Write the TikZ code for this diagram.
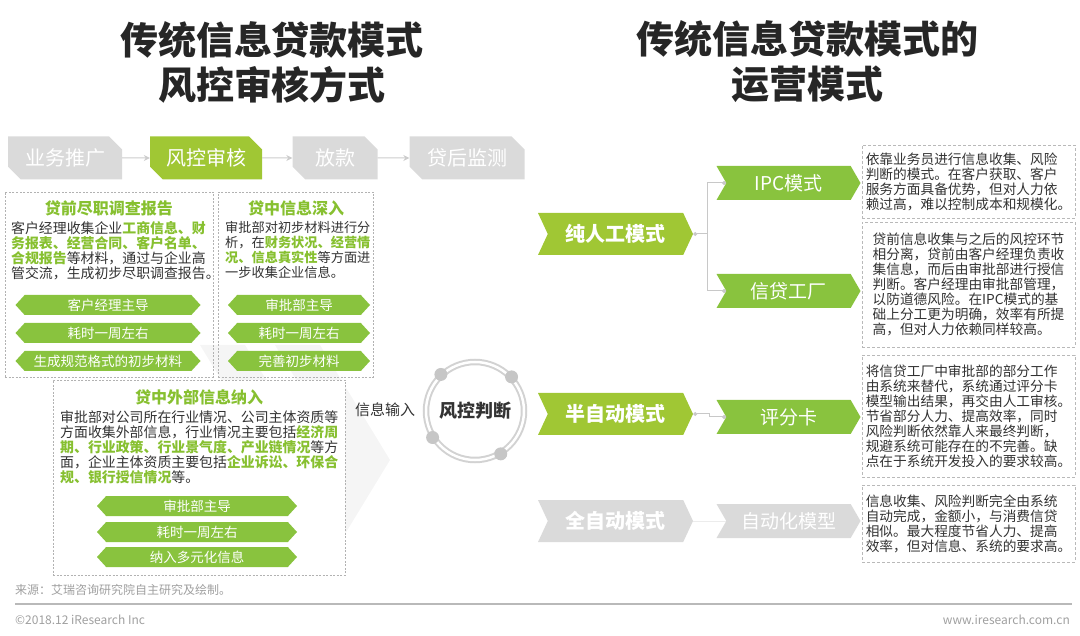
\documentclass[tikz,border=0pt]{standalone}
\usepackage{fontspec}
\setmainfont{Noto Sans CJK SC}
\usepackage{tikz}
\usetikzlibrary{shapes,arrows,arrows.meta,positioning,calc}
\definecolor{lime}{RGB}{160,199,52}
\definecolor{leaf}{RGB}{137,195,62}
\definecolor{hlgreen}{RGB}{135,192,48}
\definecolor{txtgray}{RGB}{50,50,50}
\definecolor{stagegray}{RGB}{218,218,218}
\definecolor{linegray}{RGB}{200,200,200}
\newcommand{\hl}[1]{{\color{hlgreen}\bfseries #1}}
\tikzset{
headline/.style = {align=center, text=black!85, font=\fontsize{38}{45}\selectfont\bfseries},
stagebox/.style = {chamfered rectangle, chamfered rectangle corners={north east,south west}, chamfered rectangle xsep=10pt, fill=stagegray, text=white, minimum height=43, inner sep=0pt, font=\fontsize{20}{20}\selectfont},
flow/.style = {-{Stealth[length=6pt,width=6pt]}, draw=gray!40, line width=1pt},
frame/.style = {draw=gray!60, dashed, dash pattern=on 2pt off 1.5pt, line width=0.6pt},
frametitle/.style = {text=hlgreen, font=\fontsize{16}{16}\selectfont\bfseries, inner sep=0pt},
bodytext/.style = {align=left, text=txtgray, inner sep=0pt, font=\fontsize{13.9}{15}\selectfont},
banner/.style = {signal, signal to=east and west, signal pointer angle=95, fill=leaf, text=white, minimum height=20, inner sep=0pt, font=\fontsize{13.5}{13.5}\selectfont},
note/.style = {draw=gray!55, dashed, dash pattern=on 3pt off 2pt, line width=0.8pt, align=left, text=txtgray, minimum width=213, inner sep=0pt, font=\fontsize{13.7}{15}\selectfont},
modebox/.style = {signal, signal from=west, signal to=east, signal pointer angle=130, fill=lime, text=white, minimum width=155, minimum height=42, inner sep=0pt, font=\fontsize{20}{20}\selectfont\bfseries},
subbox/.style = {signal, signal from=west, signal to=east, signal pointer angle=120, fill=leaf, text=white, minimum width=144, minimum height=34, inner sep=0pt, font=\fontsize{19}{19}\selectfont},
link/.style = {draw=linegray, line width=1pt},
judge/.style = {circle, minimum size=98, draw=gray!35, double=white, double distance=2.5pt, line width=2pt, text=black!80, font=\fontsize{18}{18}\selectfont\bfseries},
footer/.style = {text=gray!75, inner sep=0pt, font=\fontsize{12}{12}\selectfont}
}
\begin{document}
\begin{tikzpicture}[x=1pt, y=-1pt, >=Stealth]
	\useasboundingbox (0,0) rectangle (1080,636);
	\fill[black!4] (200,345) -- (245,345) -- (315,460) -- (245,575) -- (200,575) -- (270,460) -- cycle;
	\fill[black!4] (275,345) -- (320,345) -- (390,460) -- (320,575) -- (275,575) -- (345,460) -- cycle;
	\node[headline] (leftTitle) at (272,62) {传统信息贷款模式\\风控审核方式};
	\node[headline] (rightTitle) at (807,62) {传统信息贷款模式的\\运营模式};
	\node[stagebox, minimum width=114] (promo) at (65,158) {业务推广};
	\node[stagebox, fill=lime, minimum width=112] (review) at (206,158) {风控审核};
	\node[stagebox, minimum width=85] (lend) at (335,158) {放款};
	\node[stagebox, minimum width=115] (monitor) at (467,158) {贷后监测};
	\draw[flow] (promo) -- (review);
	\draw[flow] (review) -- (lend);
	\draw[flow] (lend) -- (monitor);
	\node[frame, minimum width=208, minimum height=185] (preBox) at (109,284.5) {};
	\node[frametitle] (preTitle) at (109,208) {贷前尽职调查报告};
	\node[bodytext, anchor=north west] (preText) at (11,221) {客户经理收集企业\hl{工商信息、财}\\\hl{务报表、经营合同、客户名单、}\\\hl{合规报告}等材料，通过与企业高\\管交流，生成初步尽职调查报告。};
	\node[banner, minimum width=185] (preTag1) at (108,305) {客户经理主导};
	\node[banner, minimum width=185] (preTag2) at (108,333) {耗时一周左右};
	\node[banner, minimum width=185] (preTag3) at (108,361) {生成规范格式的初步材料};
	\node[frame, minimum width=155, minimum height=185] (midBox) at (295.5,284.5) {};
	\node[frametitle] (midTitle) at (296,208) {贷中信息深入};
	\node[bodytext, anchor=north west, font=\fontsize{13.2}{15}\selectfont] (midText) at (225,221) {审批部对初步材料进行分\\析，在\hl{财务状况、经营情}\\\hl{况、信息真实性}等方面进\\一步收集企业信息。};
	\node[banner, minimum width=142] (midTag1) at (299,305) {审批部主导};
	\node[banner, minimum width=142] (midTag2) at (299,333) {耗时一周左右};
	\node[banner, minimum width=142] (midTag3) at (299,361) {完善初步材料};
	\node[frame, fill=white, minimum width=292, minimum height=195] (extBox) at (199,477.5) {};
	\node[frametitle] (extTitle) at (199,397) {贷中外部信息纳入};
	\node[bodytext, anchor=north west] (extText) at (60,411) {审批部对公司所在行业情况、公司主体资质等\\方面收集外部信息，行业情况主要包括\hl{经济周}\\\hl{期、行业政策、行业景气度、产业链情况}等方\\面，企业主体资质主要包括\hl{企业诉讼、环保合}\\\hl{规、银行授信情况}等。};
	\node[banner, minimum width=200] (extTag1) at (197,506) {审批部主导};
	\node[banner, minimum width=200] (extTag2) at (197,532) {耗时一周左右};
	\node[banner, minimum width=200] (extTag3) at (197,557) {纳入多元化信息};
	\node[bodytext, font=\fontsize{15}{15}\selectfont] (input) at (385,410) {信息输入};
	\node[judge] (risk) at (475,411) {风控判断};
	\foreach \a in {43,133,212,301}
		\fill[gray!45] (risk.\a) circle (6.5);
	\node[modebox] (manual) at (615.5,234) {纯人工模式};
	\node[subbox] (ipc) at (788.5,183) {IPC模式};
	\node[subbox] (factory) at (788.5,291) {信贷工厂};
	\node[modebox] (semi) at (615.5,414) {半自动模式};
	\node[subbox] (score) at (788.5,417) {评分卡};
	\node[modebox, fill=stagegray] (auto) at (615.5,521) {全自动模式};
	\node[subbox, fill=stagegray] (model) at (788.5,521) {自动化模型};
	\coordinate[right=14pt of manual.east] (split);
	\draw[link, {Circle[length=4pt]}-{Circle[length=4pt]}] (manual.east) -- (split) |- (ipc.west);
	\draw[link, -{Circle[length=4pt]}] (split) |- (factory.west);
	\coordinate (kink) at ($(semi.east)!0.5!(score.west)$);
	\draw[link, {Circle[length=4pt]}-{Circle[length=4pt]}] (semi.east) -| (kink) |- (score.west);
	\draw[link, draw=gray!15] (auto.east) -- (model.west);
	\node[note, minimum height=73] (noteIpc) at (968.5,181.5) {依靠业务员进行信息收集、风险\\判断的模式。在客户获取、客户\\服务方面具备优势，但对人力依\\赖过高，难以控制成本和规模化。};
	\node[note, minimum height=125] (noteFactory) at (968.5,284.5) {贷前信息收集与之后的风控环节\\相分离，贷前由客户经理负责收\\集信息，而后由审批部进行授信\\判断。客户经理由审批部管理，\\以防道德风险。在IPC模式的基\\础上分工更为明确，效率有所提\\高，但对人力依赖同样较高。};
	\node[note, minimum height=122] (noteScore) at (968.5,416) {将信贷工厂中审批部的部分工作\\由系统来替代，系统通过评分卡\\模型输出结果，再交由人工审核。\\节省部分人力、提高效率，同时\\风险判断依然靠人来最终判断，\\规避系统可能存在的不完善。缺\\点在于系统开发投入的要求较高。};
	\node[note, minimum height=77] (noteModel) at (968.5,523.5) {信息收集、风险判断完全由系统\\自动完成，金额小，与消费信贷\\相似。最大程度节省人力、提高\\效率，但对信息、系统的要求高。};
	\node[footer, anchor=west] (source) at (15,590) {来源：艾瑞咨询研究院自主研究及绘制。};
	\coordinate (ruleL) at (15,604);
	\coordinate (ruleR) at (1072,604);
	\draw[gray!55, line width=2pt] (ruleL) -- (ruleR);
	\node[footer, anchor=west] (copy) at (15,620) {©2018.12 iResearch Inc};
	\node[footer, anchor=east] (site) at (1070,620) {www.iresearch.com.cn};
\end{tikzpicture}
\end{document}
